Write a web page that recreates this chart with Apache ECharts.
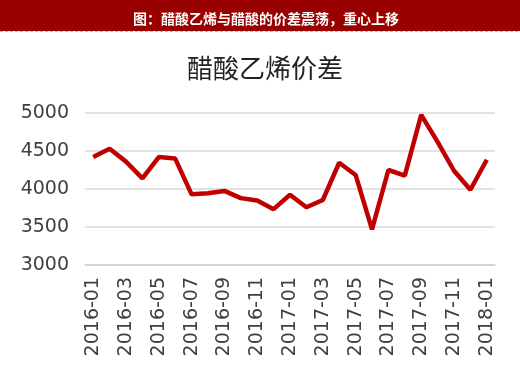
<!DOCTYPE html>
<html>
<head>
<meta charset="utf-8">
<script src="https://cdn.jsdelivr.net/npm/echarts@6/dist/echarts.min.js"></script>
<style>html,body{margin:0;padding:0;background:#fff;}#c{width:520px;height:367px;}</style>
</head>
<body>
<div id="c"></div>
<script>
const headerText = '图：醋酸乙烯与醋酸的价差震荡，重心上移';
const chartTitle = '醋酸乙烯价差';
const categories = ['2016-01','2016-02','2016-03','2016-04','2016-05','2016-06','2016-07','2016-08','2016-09','2016-10','2016-11','2016-12',
  '2017-01','2017-02','2017-03','2017-04','2017-05','2017-06','2017-07','2017-08','2017-09','2017-10','2017-11','2017-12','2018-01'];
const spreadValues = [4420,4530,4360,4140,4420,4400,3930,3945,3975,3880,3850,3735,
  3925,3760,3855,4345,4185,3470,4250,4175,4975,4620,4240,3990,4385];
const yTicks = {min:3000, max:5000, interval:500};

const chart = echarts.init(document.getElementById('c'));
chart.setOption({
  animation:false,
  backgroundColor:'#fff',
  graphic:[
    {type:'rect', shape:{x:0,y:0,width:520,height:31}, style:{fill:'#990000'}},
    {type:'line', shape:{x1:0,y1:31.5,x2:520,y2:31.5}, style:{stroke:'#9fb6e8', lineWidth:1, lineDash:[3,2]}}
  ],
  title:[
    {text:headerText, left:261, top:7, textAlign:'center',
     textStyle:{color:'#fff', fontSize:14, fontWeight:'bold', fontFamily:'Noto Sans CJK SC'}},
    {text:chartTitle, left:260, top:50, textAlign:'center',
     textStyle:{color:'#222', fontSize:26, fontWeight:'normal', fontFamily:'Noto Sans CJK SC'}}
  ],
  grid:{left:85, right:25, top:113, bottom:102},
  xAxis:{
    type:'category', data:categories, boundaryGap:true,
    axisLine:{lineStyle:{color:'#d0d0d0', width:1.5}},
    axisTick:{interval:1, length:5, lineStyle:{color:'#d0d0d0', width:1.5}},
    axisLabel:{interval:1, rotate:90, margin:12, color:'#404040', fontSize:19, fontFamily:'DejaVu Sans'}
  },
  yAxis:{
    type:'value', min:yTicks.min, max:yTicks.max, interval:yTicks.interval,
    axisLine:{show:false}, axisTick:{show:false},
    axisLabel:{color:'#404040', fontSize:19, fontFamily:'DejaVu Sans', margin:16, formatter:(v)=>String(v)},
    splitLine:{lineStyle:{color:'#d9d9d9', width:1.5}}
  },
  series:[{
    type:'line', data:spreadValues, showSymbol:false, symbol:'none',
    lineStyle:{color:'#c00000', width:4.5}, itemStyle:{color:'#c00000'}
  }]
});
</script>
</body>
</html>
